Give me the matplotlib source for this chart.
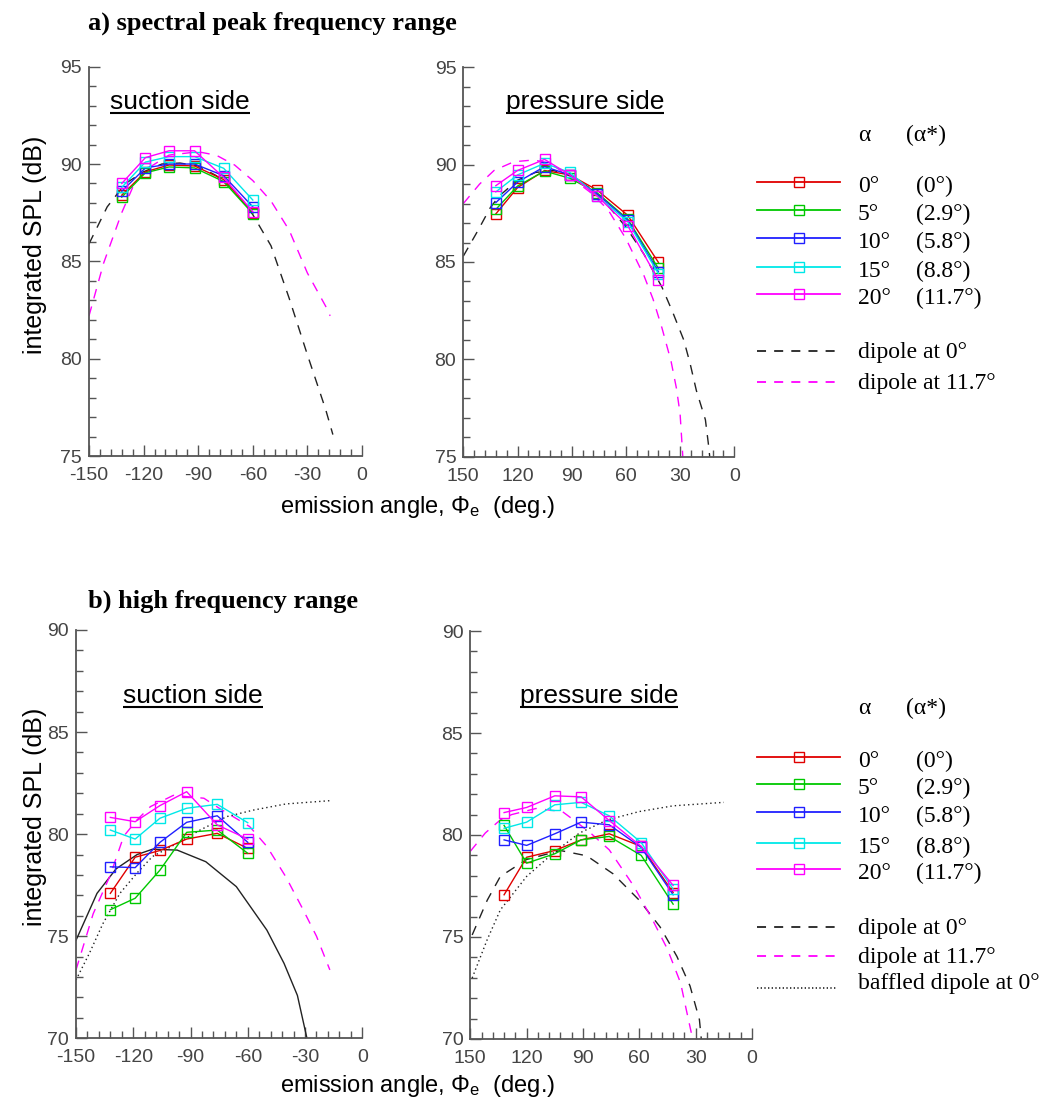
import matplotlib
matplotlib.use("Agg")
import matplotlib.pyplot as plt
from matplotlib.ticker import MultipleLocator

# === Data ===
SUCTION_ANGLE = [-132, -119, -106, -92, -76, -60]
PRESSURE_ANGLE = [132, 120, 105, 91, 76, 59, 42]

ALPHA = ["0°", "5°", "10°", "15°", "20°"]
ALPHA_STAR = ["(0°)", "(2.9°)", "(5.8°)", "(8.8°)", "(11.7°)"]
COLORS = ["#e00000", "#00c800", "#2020ff", "#00e8e8", "#ff00ff"]

# a) spectral peak frequency range, one row per alpha
peak_suction_spl = [
    [88.4, 89.6, 89.95, 89.9, 89.2, 87.5],
    [88.3, 89.55, 89.85, 89.8, 89.1, 87.45],
    [88.6, 89.8, 90.0, 90.0, 89.4, 87.8],
    [88.8, 90.1, 90.38, 90.38, 89.78, 88.15],
    [89.0, 90.33, 90.68, 90.68, 89.31, 87.55],
]
peak_pressure_spl = [
    [87.47, 88.82, 89.7, 89.47, 88.7, 87.4, 84.98],
    [87.7, 88.9, 89.67, 89.3, 88.56, 87.2, 84.67],
    [88.05, 89.1, 89.9, 89.47, 88.5, 87.15, 84.5],
    [88.6, 89.47, 90.07, 89.6, 88.4, 87.07, 84.4],
    [88.92, 89.7, 90.27, 89.47, 88.4, 86.87, 84.07],
]
# b) high frequency range
high_suction_spl = [
    [77.1, 78.87, 79.2, 79.76, 80.04, 79.3],
    [76.3, 76.86, 78.24, 80.09, 80.2, 79.06],
    [78.4, 78.36, 79.6, 80.58, 80.9, 79.6],
    [80.2, 79.76, 80.78, 81.27, 81.46, 80.56],
    [80.82, 80.61, 81.4, 82.08, 80.45, 79.76],
]
high_pressure_spl = [
    [77.07, 78.91, 79.24, 79.76, 80.06, 79.44, 77.18],
    [80.47, 78.62, 79.08, 79.76, 79.93, 79.0, 76.61],
    [79.76, 79.49, 80.06, 80.63, 80.5, 79.39, 77.07],
    [80.33, 80.63, 81.48, 81.6, 80.94, 79.63, 77.35],
    [81.1, 81.35, 81.92, 81.87, 80.71, 79.44, 77.53],
]

# dipole models
peak_suc_dip0_ang = [-150, -140, -130, -120, -110, -100, -90, -80, -70, -60, -50, -40, -30, -20, -16]
peak_suc_dip0_spl = [85.9, 87.8, 89.0, 89.6, 90.0, 90.05, 89.9, 89.4, 88.6, 87.4, 85.8, 83.1, 80.2, 77.4, 76.1]
peak_suc_dip12_ang = [-150, -142, -132, -126, -119, -106, -90, -80, -70, -60, -50, -40, -30, -20, -17.5]
peak_suc_dip12_spl = [82.2, 84.9, 87.5, 88.8, 89.7, 90.46, 90.63, 90.45, 89.95, 89.15, 88.1, 86.6, 84.4, 82.7, 82.2]

peak_pre_dip0_ang = [150, 142, 135, 130, 120, 110, 100, 90, 80, 70, 60, 50, 40, 34, 28, 24.5, 21, 16, 14.4, 13.6]
peak_pre_dip0_spl = [85.3, 86.6, 87.8, 88.4, 89.2, 89.6, 89.7, 89.4, 88.8, 87.9, 86.8, 85.4, 83.7, 82.4, 81.0, 79.8, 78.4, 76.9, 75.7, 75.0]
peak_pre_dip12_ang = [150, 141, 133, 122, 111, 102, 90, 80, 70, 60, 50, 45, 40, 35, 32, 30, 28.5]
peak_pre_dip12_spl = [88.0, 89.0, 89.7, 90.15, 90.24, 90.07, 89.3, 88.6, 87.7, 86.2, 84.3, 83.1, 81.6, 79.9, 78.5, 77.2, 75.0]

high_suc_dip0_ang = [-150, -139, -129, -118, -110, -97, -82, -66, -50, -41, -34, -29]
high_suc_dip0_spl = [74.8, 77.1, 78.3, 79.0, 79.26, 79.22, 78.65, 77.43, 75.3, 73.67, 72.1, 70.0]
high_suc_dip12_ang = [-150, -141, -132, -125, -118, -111, -99, -83, -75, -59, -50, -40, -31, -24, -17]
high_suc_dip12_spl = [73.35, 76.1, 78.0, 79.9, 80.7, 81.35, 81.9, 81.76, 81.27, 80.37, 79.4, 77.9, 76.3, 75.0, 73.35]
high_suc_baf_ang = [-150, -143, -136, -127, -118, -110, -97, -85, -71, -57, -40, -17]
high_suc_baf_spl = [72.86, 74.16, 75.6, 77.1, 78.1, 78.9, 79.55, 80.2, 80.86, 81.18, 81.48, 81.64]

high_pre_dip0_ang = [149, 141, 134, 120, 102, 88, 74, 60, 49, 40, 33, 28, 27]
high_pre_dip0_spl = [75.1, 76.8, 77.97, 78.8, 79.24, 78.98, 78.1, 76.8, 75.5, 74.05, 72.6, 70.95, 70.0]
high_pre_dip12_ang = [150, 142, 134, 128, 115, 101, 95, 86, 76, 63, 53, 45, 38, 35, 31.6]
high_pre_dip12_spl = [79.2, 80.1, 80.74, 81.0, 81.3, 81.15, 80.74, 80.1, 79.27, 77.5, 75.85, 74.4, 72.74, 71.44, 70.0]
high_pre_baf_ang = [149, 141, 134, 120, 106, 92, 77, 60, 42, 15]
high_pre_baf_spl = [72.99, 74.87, 76.33, 77.97, 79.1, 80.09, 80.74, 81.15, 81.43, 81.6]

# === Style ===
W, H = 1044, 1104
SANS = ["Liberation Sans", "DejaVu Sans"]
SERIF = ["Liberation Serif", "DejaVu Serif"]
plt.rcParams["axes.unicode_minus"] = False
plt.rcParams["font.family"] = SANS
plt.rcParams["mathtext.fontset"] = "custom"
plt.rcParams["mathtext.rm"] = "Liberation Sans"
plt.rcParams["mathtext.it"] = "Liberation Sans:italic"

AX_COL = "#555555"
DASH = (0, (7, 6))
DOT = (0, (1, 2.2))

fig = plt.figure(figsize=(W / 100, H / 100), dpi=100)


def box(x0, y0, x1, y1):
    # pixel box (top-left origin) -> figure fraction
    return [x0 / W, 1 - y1 / H, (x1 - x0) / W, (y1 - y0) / H]


def style_axes(ax, xlim, ylim):
    ax.set_xlim(*xlim)
    ax.set_ylim(*ylim)
    ax.patch.set_alpha(0)
    for s in ("top", "right"):
        ax.spines[s].set_visible(False)
    for s in ("left", "bottom"):
        ax.spines[s].set_color(AX_COL)
        ax.spines[s].set_linewidth(1.3)
    ax.xaxis.set_major_locator(MultipleLocator(30))
    ax.xaxis.set_minor_locator(MultipleLocator(6))
    ax.yaxis.set_major_locator(MultipleLocator(5))
    ax.yaxis.set_minor_locator(MultipleLocator(1))
    ax.tick_params(which="both", direction="in", color=AX_COL, width=1.0,
                   labelsize=14, labelcolor="#444444")
    ax.tick_params(axis="x", pad=8)
    ax.tick_params(axis="y", pad=5)
    ax.tick_params(which="major", length=8)
    ax.tick_params(which="minor", length=5)


def draw_panel(ax, ang, spl_rows, d0, d12, baf=None, d0_style=DASH):
    ax.plot(d0[0], d0[1], color="#222222", lw=1.0, linestyle=d0_style)
    ax.plot(d12[0], d12[1], color="#ff00ff", lw=1.0, linestyle=DASH)
    if baf is not None:
        ax.plot(baf[0], baf[1], color="#222222", lw=1.0, linestyle=DOT)
    for spl, c in zip(spl_rows, COLORS):
        ax.plot(ang, spl, color=c, lw=1.0, marker="s", ms=7, mfc="none", mew=1.0)


# === Axes ===
ax_a1 = fig.add_axes(box(89, 66.7, 362, 456))
ax_a2 = fig.add_axes(box(463.3, 67.3, 734.3, 456.7))
ax_b1 = fig.add_axes(box(76, 630, 362.3, 1038.3))
ax_b2 = fig.add_axes(box(470.3, 631, 752, 1039))

style_axes(ax_a1, (-150, 0), (75, 95))
style_axes(ax_a2, (150, 0), (75, 95))
style_axes(ax_b1, (-150, 0), (70, 90))
style_axes(ax_b2, (150, 0), (70, 90))

draw_panel(ax_a1, SUCTION_ANGLE, peak_suction_spl,
           (peak_suc_dip0_ang, peak_suc_dip0_spl), (peak_suc_dip12_ang, peak_suc_dip12_spl))
draw_panel(ax_a2, PRESSURE_ANGLE, peak_pressure_spl,
           (peak_pre_dip0_ang, peak_pre_dip0_spl), (peak_pre_dip12_ang, peak_pre_dip12_spl))
draw_panel(ax_b1, SUCTION_ANGLE, high_suction_spl,
           (high_suc_dip0_ang, high_suc_dip0_spl), (high_suc_dip12_ang, high_suc_dip12_spl),
           (high_suc_baf_ang, high_suc_baf_spl), d0_style="-")
draw_panel(ax_b2, PRESSURE_ANGLE, high_pressure_spl,
           (high_pre_dip0_ang, high_pre_dip0_spl), (high_pre_dip12_ang, high_pre_dip12_spl),
           (high_pre_baf_ang, high_pre_baf_spl))

# === Overlay for texts and legends (pixel coordinates) ===
ov = fig.add_axes([0, 0, 1, 1], zorder=-5)
ov.set_xlim(0, W)
ov.set_ylim(H, 0)
ov.axis("off")

ov.text(88, 30, "a) spectral peak frequency range", family=SERIF, weight="bold", fontsize=19, va="baseline")
ov.text(88, 608, "b) high frequency range", family=SERIF, weight="bold", fontsize=19, va="baseline")

for yc in (245, 817):
    ov.text(35, yc, "integrated SPL (dB)", rotation=90, fontsize=18, ha="center", va="center")
for yc in (507, 1086):
    ov.text(418, yc, r"emission angle, $\Phi_{\mathrm{e}}$  (deg.)", fontsize=17, ha="center", va="center")

side_titles = [(180, 109, "suction side"), (585, 109, "pressure side"),
               (193, 703, "suction side"), (599, 703, "pressure side")]
fig.canvas.draw()
for x, y, s in side_titles:
    t = ov.text(x, y, s, fontsize=19, ha="center", va="baseline")
    fig.canvas.draw()
    bb = t.get_window_extent()
    inv = ov.transData.inverted()
    (x0, _), (x1, _) = inv.transform([[bb.x0, bb.y0], [bb.x1, bb.y1]])
    ov.plot([x0, x1], [y + 4, y + 4], color="black", lw=1.5, solid_capstyle="butt")


def legend(y_head, rows, extra, baffled=None):
    ov.text(858, y_head, "α", family=SERIF, fontsize=17, va="baseline")
    ov.text(906, y_head, "(α*)", family=SERIF, fontsize=17, va="baseline")
    for y, c, a, s in zip(rows, COLORS, ALPHA, ALPHA_STAR):
        ov.plot([757, 840], [y, y], color=c, lw=1.3)
        ov.plot([799], [y], color=c, marker="s", ms=7, mfc="none", mew=1.0)
        ov.text(858, y + 10, a, family=SERIF, fontsize=17, va="baseline")
        ov.text(916, y + 10, s, family=SERIF, fontsize=17, va="baseline")
    labels = ["dipole at 0°", "dipole at 11.7°"]
    cols = ["#222222", "#ff00ff"]
    for y, c, lab in zip(extra, cols, labels):
        ov.plot([757, 837], [y, y], color=c, lw=1.3, linestyle=(0, (5, 4.5)))
        ov.text(858, y + 7, lab, family=SERIF, fontsize=17, va="baseline")
    if baffled is not None:
        ov.plot([757, 837], [baffled + 6, baffled + 6], color="#222222", lw=1.2, linestyle=(0, (0.8, 1.4)))
        ov.text(858, baffled + 7, "baffled dipole at 0°", family=SERIF, fontsize=17, va="baseline")


legend(141, [182, 210, 238, 267, 294], [351, 382])
legend(714, [757, 784, 812, 843, 869], [927, 956], baffled=982)

fig.savefig("out.png", dpi=100)
